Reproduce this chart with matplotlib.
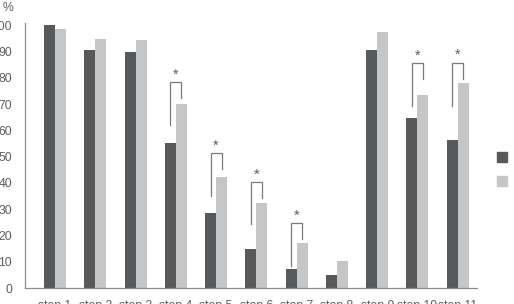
import numpy as np
import matplotlib
import matplotlib.pyplot as plt
from matplotlib.patches import Patch

matplotlib.rcParams.update({'font.family': 'Liberation Sans'})

steps = ['step 1', 'step 2', 'step 3', 'step 4', 'step 5', 'step 6',
         'step 7', 'step 8', 'step 9', 'step 10', 'step 11']
dark_vals  = [100.0, 90.6, 89.8, 55.1, 28.5, 14.9, 7.1, 5.1, 90.6, 64.7, 56.5]
light_vals = [98.5, 94.8, 94.3, 70.1, 42.4, 32.4, 17.1, 10.3, 97.6, 73.4, 78.1]

# significance brackets: group index, left foot, top, right foot
sig_groups = [3, 4, 5, 6, 9, 10]
sig_left   = [61.9, 34.9, 24.3, 8.4, 69.1, 69.4]
sig_top    = [78.4, 51.3, 40.4, 24.6, 85.6, 85.8]
sig_right  = [72.3, 45.2, 34.3, 18.5, 79.4, 79.4]

yticks = np.arange(0, 101, 10)

c_dark, c_light = '#58595b', '#c5c6c7'
c_axis, c_text = '#8c8c8c', '#5e5e5e'
fsize = 8.8

fig = plt.figure(figsize=(5.14, 3.04), dpi=100)
ax = fig.add_axes([0.0492, 0.0526, 0.8782, 0.8704])

x = np.arange(len(steps))
w = 0.273
ax.bar(x - w/2, dark_vals, width=w, color=c_dark, linewidth=0)
ax.bar(x + w/2, light_vals, width=w, color=c_light, linewidth=0)

for g, yl, yt, yr in zip(sig_groups, sig_left, sig_top, sig_right):
    ax.plot([g - w/2, g - w/2, g + w/2, g + w/2], [yl, yt, yt, yr],
            color='#7a7a7a', lw=0.9, solid_joinstyle='miter')
    ax.text(g, yt + 0.2, '*', ha='center', va='bottom', fontsize=10.5, color=c_text)

ax.set_xlim(-0.737, 10.47)
ax.set_ylim(0, 100.7)
ax.set_xticks(x)
ax.set_xticklabels(steps)
ax.set_yticks(yticks)
ax.tick_params(axis='both', length=0, labelsize=fsize, labelcolor=c_text)
ax.tick_params(axis='x', pad=8.5)
ax.tick_params(axis='y', pad=9.5)
for s in ['top', 'right']:
    ax.spines[s].set_visible(False)
for s in ['left', 'bottom']:
    ax.spines[s].set_color(c_axis)
    ax.spines[s].set_linewidth(0.9)

fig.text(3/514, 1 - 8/304, '%', fontsize=fsize, color=c_text, va='center', ha='left')

handles = [Patch(color=c_dark), Patch(color=c_light)]
fig.legend(handles, ['', ''], loc='upper left', bbox_to_anchor=(0.955, 0.52),
           frameon=False, handlelength=0.85, handleheight=0.85,
           labelspacing=1.0, fontsize=fsize, borderpad=0, handletextpad=0.5)

fig.savefig('out.png', dpi=100)
